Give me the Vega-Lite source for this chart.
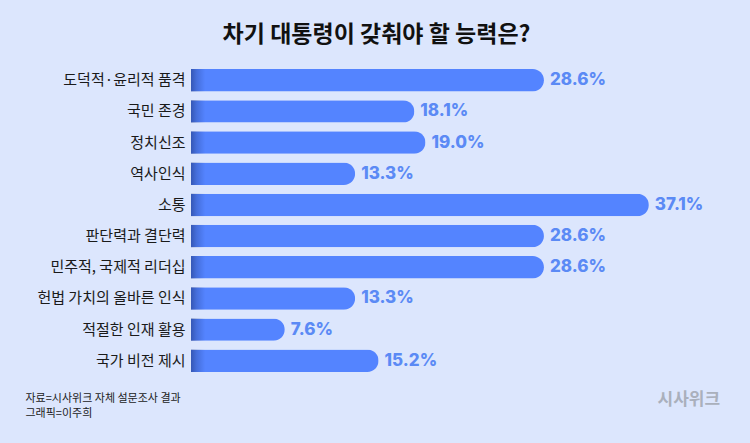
{
  "$schema": "https://vega.github.io/schema/vega-lite/v6.json",
  "autosize": {"type": "none"},
  "width": 543,
  "height": 303,
  "padding": {"left": 191, "top": 69, "right": 16, "bottom": 71},
  "background": "#dce6fd",
  "config": {"view": {"stroke": null}},
  "title": {
    "text": "차기 대통령이 갖춰야 할 능력은?",
    "font": "Noto Sans CJK KR",
    "fontSize": 23,
    "fontWeight": "bold",
    "color": "#111111",
    "anchor": "middle",
    "frame": "group",
    "dx": -86,
    "offset": 22
  },
  "data": {
    "values": [
      {"item": "도덕적·윤리적 품격", "v": 28.6},
      {"item": "국민 존경", "v": 18.1},
      {"item": "정치신조", "v": 19.0},
      {"item": "역사인식", "v": 13.3},
      {"item": "소통", "v": 37.1},
      {"item": "판단력과 결단력", "v": 28.6},
      {"item": "민주적, 국제적 리더십", "v": 28.6},
      {"item": "헌법 가치의 올바른 인식", "v": 13.3},
      {"item": "적절한 인재 활용", "v": 7.6},
      {"item": "국가 비전 제시", "v": 15.2}
    ]
  },
  "encoding": {
    "y": {
      "field": "item",
      "type": "nominal",
      "sort": null,
      "scale": {"paddingInner": 0.28, "paddingOuter": 0},
      "axis": {
        "title": null,
        "domain": false,
        "ticks": false,
        "grid": false,
        "labelPadding": 6,
        "labelFont": "Noto Sans CJK KR",
        "labelFontSize": 15,
        "labelColor": "#1a1a1a"
      }
    }
  },
  "layer": [
    {
      "mark": {"type": "bar", "color": "#5484ff", "cornerRadiusEnd": 11.25},
      "encoding": {
        "x": {
          "field": "v",
          "type": "quantitative",
          "scale": {"domain": [0, 44], "nice": false},
          "axis": {
            "values": [40.3],
            "labelExpr": "'시사위크'",
            "labelFont": "Noto Sans CJK KR",
            "labelFontSize": 17,
            "labelFontWeight": "bold",
            "labelColor": "#aab0bc",
            "labelPadding": 19,
            "domain": false,
            "ticks": false,
            "grid": false,
            "title": ["자료=시사위크 자체 설문조사 결과", "그래픽=이주희"],
            "titleFont": "Noto Sans CJK KR",
            "titleFontSize": 11,
            "titleFontWeight": "normal",
            "titleColor": "#222222",
            "titleAlign": "left",
            "titleBaseline": "top",
            "titleAnchor": "start",
            "titleX": -166,
            "titleY": 20,
            "titleLineHeight": 15
          }
        }
      }
    },
    {
      "mark": {
        "type": "rect",
        "color": {
          "gradient": "linear",
          "x1": 0, "x2": 1, "y1": 0, "y2": 0,
          "stops": [
            {"offset": 0, "color": "rgba(10,25,80,0.42)"},
            {"offset": 0.4, "color": "rgba(10,25,80,0.2)"},
            {"offset": 1, "color": "rgba(10,25,80,0)"}
          ]
        }
      },
      "encoding": {
        "x": {"datum": 0, "type": "quantitative"},
        "x2": {"datum": 1.15}
      }
    },
    {
      "mark": {
        "type": "text",
        "align": "left",
        "baseline": "middle",
        "dx": 6,
        "font": "Inter",
        "fontSize": 17,
        "fontWeight": 800,
        "color": "#5b8af5",
        "text": {"expr": "format(datum.v, '.1f') + '%'"}
      },
      "encoding": {
        "x": {"field": "v", "type": "quantitative"}
      }
    }
  ]
}
